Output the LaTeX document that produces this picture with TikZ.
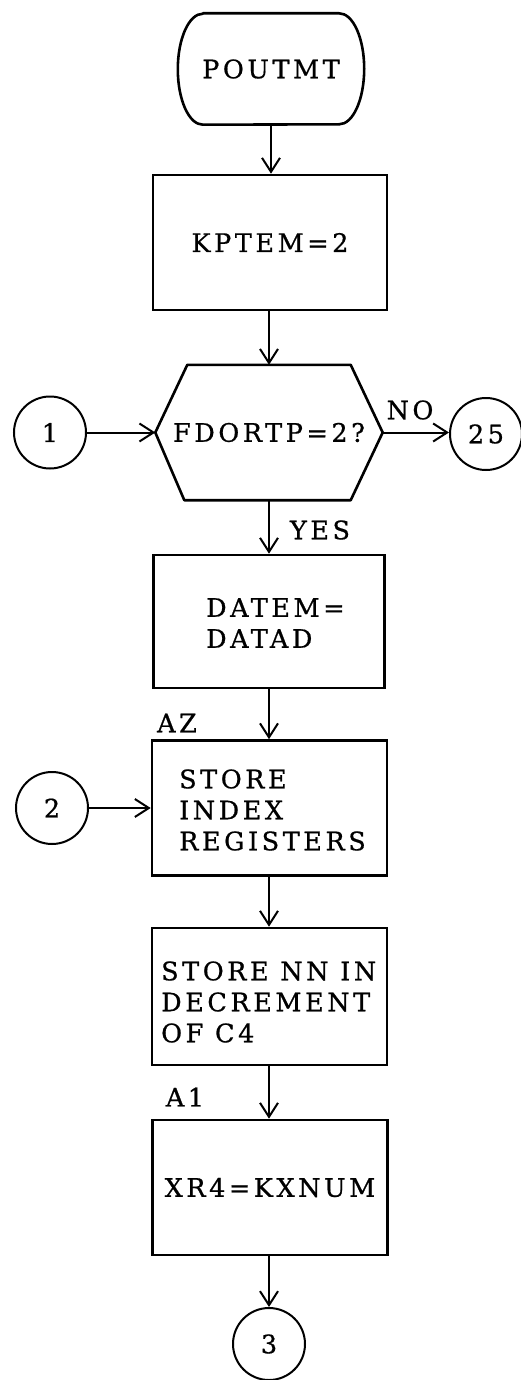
\documentclass[tikz,border=0pt]{standalone}
\usepackage{fontspec}
\setmainfont{DejaVu Serif}[LetterSpace=14,FakeBold=0.7]
\usetikzlibrary{arrows.meta}
\begin{document}
\begin{tikzpicture}[x=1pt,y=-1pt,
  font=\fontsize{25.5}{31}\selectfont,
  proc/.style={draw, line width=2.6pt, inner sep=0pt},
  shapebox/.style={inner sep=0pt},
  conn/.style={draw, circle, line width=2pt, minimum size=72pt, inner sep=0pt},
  arr/.style={line width=2pt, -{Straight Barb[length=14pt,width=18pt,line width=2pt]}},
  lbl/.style={inner sep=0pt},
  outline/.style={line width=2.6pt, line join=round}]
\useasboundingbox (0,0) rectangle (521,1380);

% terminal
\node[shapebox, minimum width=186pt, minimum height=111pt] (term) at (271,69) {POUTMT};
\draw[outline] ([xshift=25pt]term.north west) -- ([xshift=-25pt]term.north east)
  arc[start angle=90,end angle=-90,x radius=25pt,y radius=55.5pt]
  -- ([xshift=25pt]term.south west)
  arc[start angle=270,end angle=90,x radius=25pt,y radius=55.5pt] -- cycle;

% KPTEM=2
\node[proc, minimum width=234pt, minimum height=135pt] (kptem) at (270,242.5) {KPTEM=2};

% decision hexagon
\node[shapebox, minimum width=227pt, minimum height=135pt] (dec) at (269,432.5) {FDORTP=2?};
\draw[outline] (dec.west) -- ([xshift=32pt]dec.north west) -- ([xshift=-32pt]dec.north east)
  -- (dec.east) -- ([xshift=-32pt]dec.south east) -- ([xshift=29pt]dec.south west) -- cycle;

\node[conn] (c1) at (50,432.5) {1};
\node[conn] (c25) at (486,434) {25};
\node[lbl] (no) at (410,410) {NO};
\node[lbl] (yes) at (320,530) {YES};

% DATEM box
\node[proc, minimum width=231pt, minimum height=133pt] (datem) at (269,621.5) {};
\node[lbl, anchor=west, align=left] (datemt) at (206,623) {DATEM=\\DATAD};

% store index registers
\node[lbl] (az) at (177,723) {AZ};
\node[proc, minimum width=235pt, minimum height=135pt] (store) at (269.5,808) {};
\node[lbl, anchor=west, align=left] (storet) at (179,810) {STORE\\INDEX\\REGISTERS};
\node[conn] (c2) at (52,808) {2};

% store NN
\node[proc, minimum width=235pt, minimum height=137pt] (storenn) at (269.5,996.5) {};
\node[lbl, anchor=west, align=left] (storennt) at (161,1002) {STORE NN IN\\DECREMENT\\OF C4};

% XR4
\node[lbl] (a1) at (185,1097) {A1};
\node[proc, minimum width=235pt, minimum height=135pt] (xr4) at (270,1187.5) {XR4=KXNUM};

\node[conn] (c3) at (269,1344) {3};

% connectors
\draw[arr] (term.south) -- (term.south |- kptem.north);
\draw[arr] (kptem.south -| dec.north) -- (dec.north);
\draw[arr] (c1.east) -- (dec.west);
\draw[arr] (dec.east) -- (dec.east -| c25.west);
\draw[arr] (dec.south) -- (dec.south |- datem.north);
\draw[arr] (datem.south -| dec.south) -- (dec.south |- store.north);
\draw[arr] (c2.east) -- (store.west);
\draw[arr] (store.south -| dec.south) -- (dec.south |- storenn.north);
\draw[arr] (storenn.south -| dec.south) -- (dec.south |- xr4.north);
\draw[arr] (xr4.south -| c3.north) -- (c3.north);
\end{tikzpicture}
\end{document}
